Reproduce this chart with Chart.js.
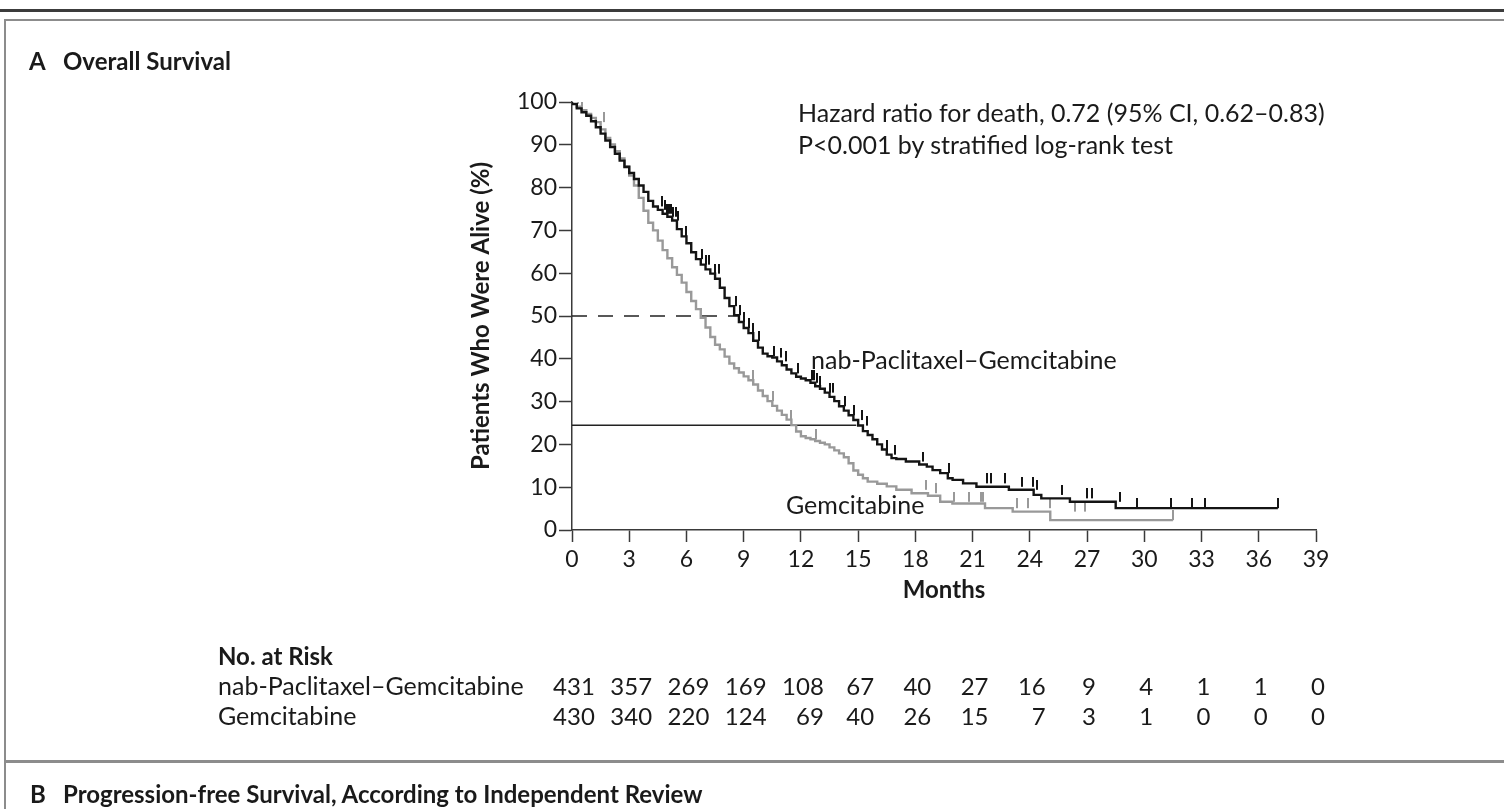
<!DOCTYPE html>
<html>
<head>
<meta charset="utf-8">
<script src="https://cdn.jsdelivr.net/npm/chart.js@4.4.1/dist/chart.umd.min.js"></script>
<style>
  html, body { margin: 0; padding: 0; background: #fff; }
  body { position: relative; width: 1504px; height: 809px; overflow: hidden;
         font-family: Lato, "Noto Sans", sans-serif; color: #1a1a1a; }
  #chart { position: absolute; left: 0; top: 0; }
  .rule { position: absolute; left: 0; top: 9px; width: 1504px; height: 3px; background: #3c3c3c; }
  #panelA { position: absolute; left: 4px; top: 19px; width: 1600px; height: 739px;
            border: 2px solid #8c8c8c; border-bottom-width: 3px; border-right: none; }
  #panelB { position: absolute; left: 4px; top: 763px; width: 1600px; height: 100px;
            border-left: 2px solid #8c8c8c; }
  .txt { position: absolute; white-space: nowrap; line-height: 1; font-size: 25px; }
  .bold { font-weight: bold; font-size: 24px; }
  .col { position: absolute; white-space: nowrap; line-height: 30px; font-size: 24px;
         text-align: right; transform: translateX(-50%); }
</style>
</head>
<body>
<div class="rule"></div>
<div id="panelA"></div>
<div id="panelB"></div>
<canvas id="chart" width="1504" height="809"></canvas>

<div class="txt bold" style="left:29px;top:49px">A</div>
<div class="txt bold" style="left:63px;top:49px">Overall Survival</div>
<div class="txt" style="left:798px;top:100px">Hazard ratio for death, 0.72 (95% CI, 0.62–0.83)</div>
<div class="txt" style="left:798px;top:132px">P&lt;0.001 by stratified log-rank test</div>
<div class="txt" id="labelNab" style="left:811px;top:347px"></div>
<div class="txt" id="labelGem" style="left:786px;top:492px"></div>
<div class="txt bold" style="left:218px;top:644px">No. at Risk</div>
<div class="txt" id="rowNab" style="left:218px;top:673px"></div>
<div class="txt" id="rowGem" style="left:218px;top:703px"></div>
<div id="riskCols"></div>
<div class="txt bold" style="left:30px;top:782px">B</div>
<div class="txt bold" style="left:63px;top:782px">Progression-free Survival, According to Independent Review</div>

<script>
const armNames = ['nab-Paclitaxel–Gemcitabine', 'Gemcitabine'];

const monthTicks = [0, 3, 6, 9, 12, 15, 18, 21, 24, 27, 30, 33, 36, 39];
const survivalTicks = [0, 10, 20, 30, 40, 50, 60, 70, 80, 90, 100];

// Kaplan-Meier, nab-paclitaxel + gemcitabine (month, % alive)
const nabMonths = [0, 0.25, 0.5, 0.75, 1, 1.25, 1.5, 1.75, 2, 2.25, 2.5, 2.75, 3, 3.25, 3.5, 3.75,
  4, 4.25, 4.5, 4.75, 5, 5.25, 5.5, 5.75, 6, 6.25, 6.5, 6.75, 7, 7.25, 7.5, 7.75, 8, 8.25, 8.5, 8.75,
  9, 9.25, 9.5, 9.75, 10, 10.25, 10.5, 10.75, 11, 11.25, 11.5, 11.75, 12, 12.25, 12.5, 12.75, 13,
  13.25, 13.5, 13.75, 14, 14.25, 14.5, 14.75, 15, 15.25, 15.5, 15.75, 16, 16.25, 16.5, 16.75, 17,
  17.5, 18.2, 18.6, 18.9, 19.3, 19.7, 19.95, 20.5, 21.2, 22.9, 24.2, 24.6, 26.1, 28.5, 29.1, 37];
const nabSurvival = [100, 99.5, 98.5, 97.6, 96.8, 95.5, 94.1, 92.6, 91, 89.5, 87.9, 86.3, 84.8, 83.4, 82, 80.5,
  79, 76.9, 75.6, 74.8, 73.9, 73.2, 72.3, 70.3, 68.6, 67, 64.9, 63.3, 62, 60.9, 59.9, 58.7, 56.6, 54.2, 52.3, 50.2,
  48.6, 47.2, 46, 44.2, 42.6, 41.2, 40.6, 40.3, 39.4, 38.5, 37.5, 36.6, 35.8, 35.4, 35, 34.4, 33.6,
  33, 32.1, 31.1, 30.1, 28.9, 27.9, 26.8, 25.7, 24.4, 23.1, 22.2, 21.2, 20, 18.8, 17.6, 16.8,
  16.6, 16, 15.3, 14.8, 14, 13.3, 12.1, 11.7, 10.9, 10.1, 9.4, 8.2, 7.4, 6.6, 5.1, 5.1];

// Kaplan-Meier, gemcitabine alone
const gemMonths = [0, 0.25, 0.5, 0.75, 1, 1.25, 1.5, 1.75, 2, 2.25, 2.5, 2.75, 3, 3.25, 3.5, 3.75,
  4, 4.25, 4.5, 4.75, 5, 5.25, 5.5, 5.75, 6, 6.25, 6.5, 6.75, 7, 7.25, 7.5, 7.75, 8, 8.25, 8.5, 8.75,
  9, 9.25, 9.5, 9.75, 10, 10.25, 10.5, 10.75, 11, 11.25, 11.5, 11.75, 12, 12.25, 12.5, 12.75, 13,
  13.25, 13.5, 13.75, 14, 14.25, 14.5, 14.75, 15, 15.25, 15.5, 16, 16.5, 17, 17.8, 18.66, 19.3,
  19.94, 21.65, 23.1, 25.07, 27.2, 31.5];
const gemSurvival = [100, 99.6, 98.9, 98.1, 97.2, 96.3, 95.3, 93.6, 91.6, 90.1, 88.5, 86.8, 85, 82.8, 80.5, 77.6,
  74.6, 71.8, 70, 67.6, 65.4, 63.5, 61.4, 59.6, 57.8, 55.6, 53.5, 51.6, 49.6, 47.3, 45.1, 43.3, 42.2, 40.5, 38.9, 37.8,
  36.8, 35.9, 35, 34, 32.6, 31.3, 30.1, 29, 27.9, 26.9, 25.8, 24.5, 23, 21.9, 21.5, 21.2, 20.8,
  20.4, 20, 19.3, 18.6, 17.9, 17, 15.6, 13.9, 12.9, 12.1, 11.3, 10.8, 10.2, 9.4, 8.6, 8,
  6.6, 6.2, 5.1, 4.3, 2.3, 2.3];

// censored observations (months)
const nabCensorMonths = [4.7, 4.85, 5, 5.1, 5.2, 5.3, 5.45, 5.55, 6, 6.8, 7, 7.2, 7.5, 7.7, 8.6, 8.8,
  9, 9.3, 9.5, 9.8, 10.6, 10.95, 11.2, 11.83, 12.6, 12.7, 12.85, 13, 13.5, 13.7, 14.3, 14.8, 15.2,
  15.45, 16.5, 16.95, 18.4, 19.75, 21.75, 21.96, 22.7, 23.57, 24.17, 24.37, 25.66, 27, 27.25, 28.7,
  29.6, 31.4, 32.5, 33.2, 37];
const gemCensorMonths = [0.3, 0.5, 1.7, 9.5, 10.55, 11.5, 12.8, 18.55, 19.1, 20.05, 20.8, 21.45, 21.55,
  23.35, 23.9, 25.05, 26.35, 26.9, 31.5];

// reference lines
const medianLineMonths = [0, 8.7];
const medianLineLevel = [50, 50];
const lowerLineMonths = [0, 14.9];
const lowerLineLevel = [24.5, 24.5];

const nabAtRisk = [431, 357, 269, 169, 108, 67, 40, 27, 16, 9, 4, 1, 1, 0];
const gemAtRisk = [430, 340, 220, 124, 69, 40, 26, 15, 7, 3, 1, 0, 0, 0];

const toPoints = (xs, ys) => xs.map((x, i) => ({ x, y: ys[i] }));

const stepValue = (months, values, t) => {
  let v = values[0];
  for (let i = 0; i < months.length; i++) {
    if (months[i] <= t) v = values[i];
    else break;
  }
  return v;
};

const censorPoints = (censor, months, values) =>
  censor.map((t) => ({ x: t, y: stepValue(months, values, t) }));

const makeTick = (color) => {
  const c = document.createElement('canvas');
  c.width = 2;
  c.height = 20;
  const g = c.getContext('2d');
  g.fillStyle = color;
  g.fillRect(0, 0, 2, 10);
  return c;
};

const nabColor = '#141414';
const gemColor = '#999999';
const axisColor = '#3a3a3a';
const yAxisWidth = 109;
const xAxisHeight = 79;

Chart.defaults.font.family = 'Lato, "Noto Sans", sans-serif';
Chart.defaults.color = '#1a1a1a';

const chart = new Chart(document.getElementById('chart'), {
  type: 'line',
  data: {
    datasets: [
      {
        data: toPoints(nabMonths, nabSurvival),
        borderColor: nabColor,
        borderWidth: 2.4,
        stepped: 'after',
        pointRadius: 0,
      },
      {
        data: censorPoints(nabCensorMonths, nabMonths, nabSurvival),
        showLine: false,
        pointStyle: makeTick(nabColor),
        pointRadius: 4,
      },
      {
        data: toPoints(gemMonths, gemSurvival),
        borderColor: gemColor,
        borderWidth: 2.4,
        stepped: 'after',
        pointRadius: 0,
      },
      {
        data: censorPoints(gemCensorMonths, gemMonths, gemSurvival),
        showLine: false,
        pointStyle: makeTick(gemColor),
        pointRadius: 4,
      },
      {
        data: toPoints(medianLineMonths, medianLineLevel),
        borderColor: '#222',
        borderWidth: 1.5,
        borderDash: [15, 11],
        pointRadius: 0,
      },
      {
        data: toPoints(lowerLineMonths, lowerLineLevel),
        borderColor: '#222',
        borderWidth: 1.5,
        pointRadius: 0,
      },
    ],
  },
  options: {
    responsive: false,
    animation: false,
    events: [],
    devicePixelRatio: 1,
    layout: {
      padding: { left: 572 - yAxisWidth, right: 188, top: 102, bottom: 809 - 530 - xAxisHeight },
    },
    plugins: { legend: { display: false }, tooltip: { enabled: false } },
    scales: {
      x: {
        type: 'linear',
        min: 0,
        max: 39,
        afterBuildTicks: (scale) => { scale.ticks = monthTicks.map((value) => ({ value })); },
        afterFit: (scale) => { scale.height = xAxisHeight; },
        ticks: { autoSkip: false, maxRotation: 0, padding: 4, font: { size: 23 }, color: '#1a1a1a' },
        grid: { drawOnChartArea: false, tickLength: 12, tickColor: axisColor, tickWidth: 1.5 },
        border: { color: axisColor, width: 1.5 },
        title: { display: true, text: 'Months', font: { size: 24, weight: 'bold' }, color: '#1a1a1a',
                 padding: { top: 4, bottom: 4 } },
      },
      y: {
        min: 0,
        max: 100,
        afterBuildTicks: (scale) => { scale.ticks = survivalTicks.map((value) => ({ value })); },
        afterFit: (scale) => { scale.width = yAxisWidth; },
        ticks: { padding: 2, font: { size: 23 }, color: '#1a1a1a' },
        grid: { drawOnChartArea: false, tickLength: 13, tickColor: axisColor, tickWidth: 1.5 },
        border: { color: axisColor, width: 1.5 },
        title: { display: true, text: 'Patients Who Were Alive (%)', font: { size: 24, weight: 'bold' },
                 color: '#1a1a1a', padding: { top: 4, bottom: 4 } },
      },
    },
  },
});

document.getElementById('labelNab').textContent = armNames[0];
document.getElementById('labelGem').textContent = armNames[1];
document.getElementById('rowNab').textContent = armNames[0];
document.getElementById('rowGem').textContent = armNames[1];

// at-risk columns placed under the month ticks
const cols = document.getElementById('riskCols');
monthTicks.forEach((m, i) => {
  const col = document.createElement('div');
  col.className = 'col';
  col.style.left = `${chart.scales.x.getPixelForValue(m) + 2}px`;
  col.style.top = '671px';
  col.innerHTML = `<div>${nabAtRisk[i]}</div><div>${gemAtRisk[i]}</div>`;
  cols.appendChild(col);
});
</script>
</body>
</html>
